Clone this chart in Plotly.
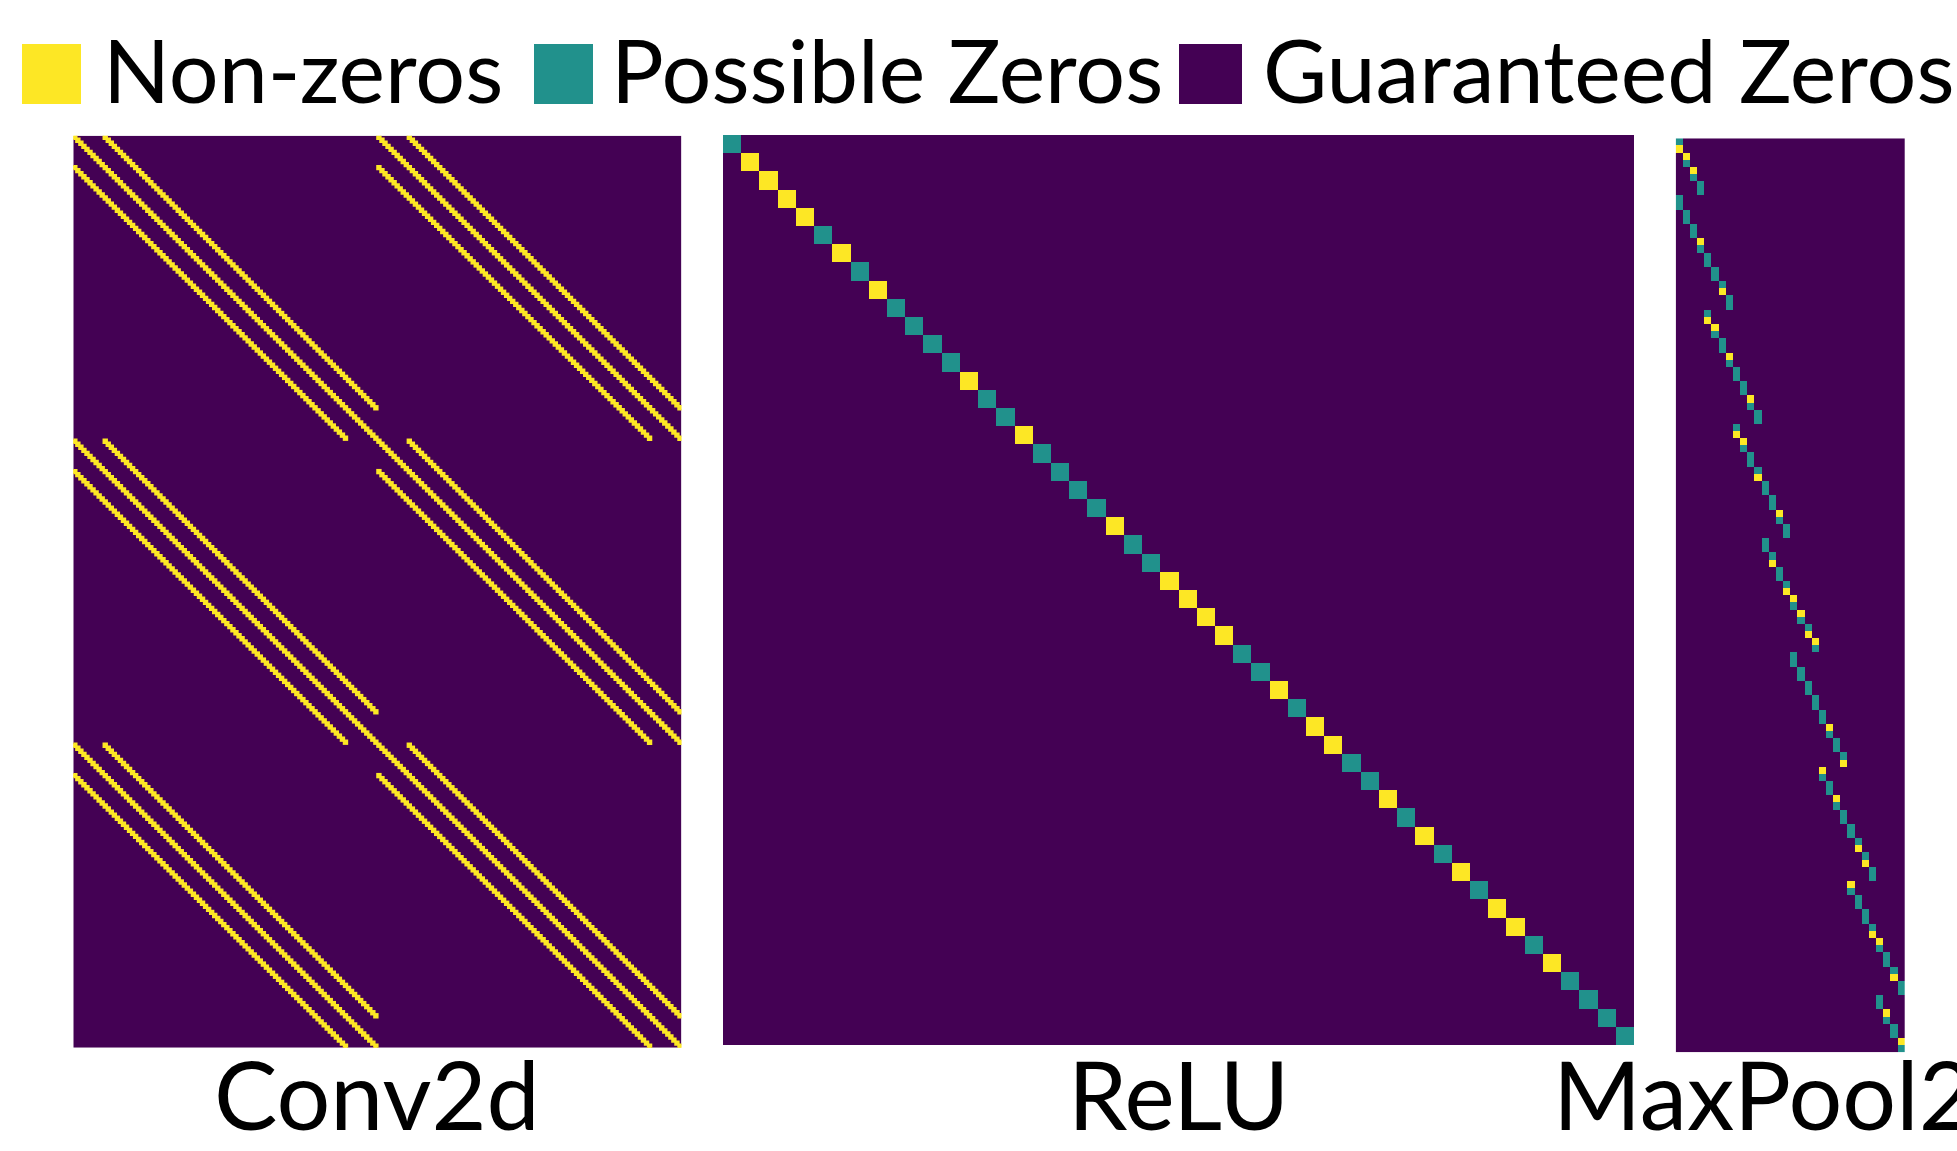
import numpy as np
import plotly.graph_objects as go

W, H = 1957, 1151

# ---------------- data ----------------
# codes: 0 = guaranteed zero, 1 = possible zero, 2 = non-zero
legend_labels = ["Non-zeros", "Possible Zeros", "Guaranteed Zeros"]
legend_codes = [2, 1, 0]
panel_titles = ["Conv2d", "ReLU", "MaxPool2d"]

# Conv2d Jacobian: 3 x 2 channel blocks, 10x10 spatial grid, vertical band offsets
conv_row_blocks = 3
conv_col_blocks = 2
conv_grid = 10
conv_band = [-1, 0, 1]

# ReLU Jacobian diagonal (50 entries)
relu_diag = [1, 2, 2, 2, 2, 1, 2, 1, 2, 1,
             1, 1, 1, 2, 1, 1, 2, 1, 1, 1,
             1, 2, 1, 1, 2, 2, 2, 2, 1, 1,
             2, 1, 2, 2, 1, 1, 2, 1, 2, 1,
             2, 1, 2, 2, 1, 2, 1, 1, 1, 1]

# MaxPool2d (2x2) Jacobian: 2 channels, 8x8 input -> 4x4 output; one entry per input row
pool_channels = 2
pool_in = 8
pool_k = 2
pool_vals = [1, 2, 2, 1, 2, 1, 1, 1,
             1, 1, 1, 1, 1, 1, 2, 1,
             1, 1, 1, 1, 1, 2, 1, 1,
             1, 2, 2, 1, 1, 1, 2, 1,
             1, 1, 1, 1, 2, 1, 1, 1,
             1, 2, 2, 1, 1, 1, 1, 2,
             1, 1, 1, 1, 2, 1, 1, 1,
             1, 1, 1, 2, 1, 1, 1, 2,
             2, 1, 2, 1, 1, 2, 2, 1,
             1, 1, 1, 1, 1, 1, 1, 1,
             1, 1, 2, 1, 1, 1, 1, 2,
             2, 1, 1, 1, 2, 1, 1, 1,
             1, 1, 1, 2, 1, 2, 1, 1,
             2, 1, 1, 1, 1, 1, 1, 2,
             2, 1, 1, 1, 1, 2, 1, 1,
             1, 1, 2, 1, 1, 1, 2, 1]

# ---------------- build matrices ----------------
band = np.zeros((conv_grid, conv_grid), dtype=int)
for off in conv_band:
    band += np.eye(conv_grid, k=off, dtype=int)
conv_block = np.kron(band, np.eye(conv_grid, dtype=int)) * 2
conv_z = np.tile(conv_block, (conv_row_blocks, conv_col_blocks))

relu_z = np.diag(relu_diag)

pool_out = pool_in // pool_k
n_in = pool_channels * pool_in * pool_in
n_out = pool_channels * pool_out * pool_out
pool_z = np.zeros((n_in, n_out), dtype=int)
for r, v in enumerate(pool_vals):
    ch, rem = divmod(r, pool_in * pool_in)
    h, w = divmod(rem, pool_in)
    c = ch * pool_out * pool_out + (h // pool_k) * pool_out + (w // pool_k)
    pool_z[r, c] = v

PURPLE, TEAL, YELLOW = "#440154", "#21918c", "#fde725"
cmap = {0: PURPLE, 1: TEAL, 2: YELLOW}
colorscale = [[0, PURPLE], [1/3, PURPLE], [1/3, TEAL], [2/3, TEAL], [2/3, YELLOW], [1, YELLOW]]

# panel boxes in pixels: (left, top, right, bottom)
boxes = [(73.3, 135.7, 681.5, 1047.7),
         (723.0, 135.0, 1634.0, 1045.0),
         (1675.7, 138.3, 1905.0, 1052.3)]
mats = [conv_z, relu_z, pool_z]

fig = go.Figure()
for i, (z, (l, t, r, b)) in enumerate(zip(mats, boxes), start=1):
    xa = "x" if i == 1 else f"x{i}"
    ya = "y" if i == 1 else f"y{i}"
    fig.add_trace(go.Heatmap(z=z, colorscale=colorscale, zmin=0, zmax=2,
                             showscale=False, xaxis=xa, yaxis=ya, hoverinfo="skip"))
    nr, nc = z.shape
    fig.layout[f"xaxis{'' if i == 1 else i}"] = dict(
        domain=[l / W, r / W], range=[-0.5, nc - 0.5], visible=False,
        anchor=ya, fixedrange=True)
    fig.layout[f"yaxis{'' if i == 1 else i}"] = dict(
        domain=[1 - b / H, 1 - t / H], range=[nr - 0.5, -0.5], visible=False,
        anchor=xa, fixedrange=True)

# slightly enlarged marks for the dense Conv2d non-zeros (the fine 1-cell lines)
rr, cc = np.nonzero(conv_z == 2)
fig.add_trace(go.Scatter(x=cc, y=rr, mode="markers", xaxis="x", yaxis="y",
                         marker=dict(symbol="square", size=5.4, color=YELLOW,
                                     line=dict(width=0)),
                         hoverinfo="skip", cliponaxis=True))

FONT = "Lato"
annotations = []
shapes = []
# legend
sq = [(22, 81), (534, 593), (1179, 1242)]
tx = [101, 609, 1261]
for (x0, x1), txx, lab, code in zip(sq, tx, legend_labels, legend_codes):
    shapes.append(dict(type="rect", xref="paper", yref="paper",
                       x0=x0 / W, x1=x1 / W, y0=1 - 104 / H, y1=1 - 44 / H,
                       fillcolor=cmap[code], line=dict(width=0)))
    annotations.append(dict(text=lab, x=txx / W, y=1 - 69 / H, xref="paper", yref="paper",
                            xanchor="left", yanchor="middle", showarrow=False,
                            font=dict(family=FONT, size=88, color="black")))
# panel titles
for (l, t, r, b), title in zip(boxes, panel_titles):
    annotations.append(dict(text=title, x=(l + r) / 2 / W, y=0,
                            xref="paper", yref="paper", xanchor="center", yanchor="bottom",
                            showarrow=False, borderpad=0,
                            font=dict(family=FONT, size=95, color="black")))

fig.update_layout(width=W, height=H, autosize=False,
                  margin=dict(l=0, r=0, t=0, b=0, pad=0),
                  paper_bgcolor="white", plot_bgcolor="white",
                  annotations=annotations, shapes=shapes, showlegend=False)

fig.write_html("out.html", config={"displayModeBar": False})
